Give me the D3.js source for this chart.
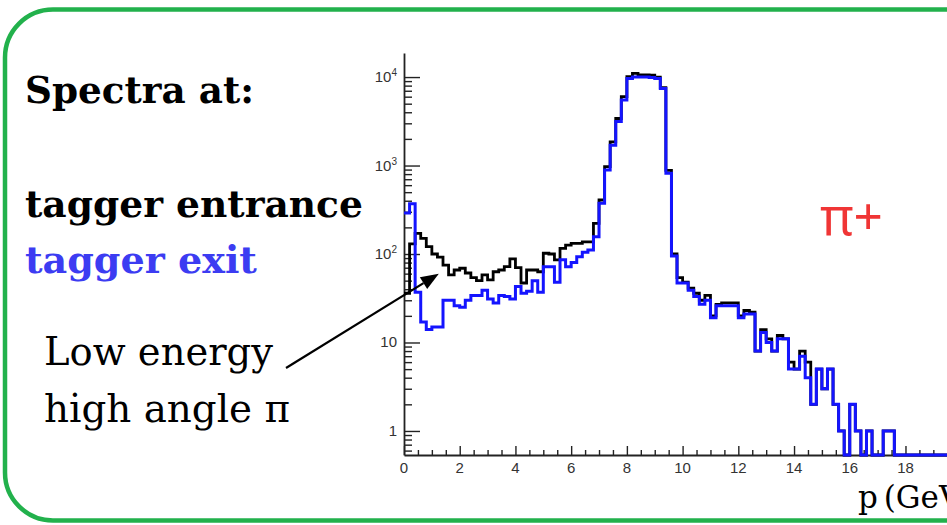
<!DOCTYPE html>
<html>
<head>
<meta charset="utf-8">
<script src="https://cdn.jsdelivr.net/npm/d3@7"></script>
<style>
  html, body { margin: 0; padding: 0; background: #fff; overflow: hidden; }
  svg { display: block; }
</style>
</head>
<body>
<svg id="chart" width="947" height="525"></svg>
<script>
// ---- data -------------------------------------------------------------
// Momentum spectra of pi+ (counts per 0.2 GeV/c bin, 0..20 GeV/c)
const binWidth = 0.2;
const xDomain = [0, 20];
const yDomain = [0.535, 18700];

const entrance = [
  36, 130, 171, 150, 121, 100, 92, 75, 58, 66,
  69, 61, 54, 50, 58, 51, 63, 66, 72, 88,
  70, 47, 66, 66, 63, 102, 100, 86, 116, 126,
  132, 132, 137, 137, 222, 408, 970, 1850, 3400, 6000,
  10100, 11000, 10600, 10600, 10500, 10000, 7600, 880, 100, 54,
  48, 41, 36, 30, 34, 20, 27, 28, 28, 28,
  20, 23, 22, 8, 14, 11, 8, 12, 11, 6,
  5, 8, 6, 2, 5, 3, 5, 2, 1, 0,
  2, 1, 0, 1, 0, 0, 1, 1, 0, 0,
  0, 0, 0, 0, 0, 0, 0, 0, 0, 0
];

const exit = [
  290, 370, 37, 17, 14, 15, 15, 30, 30, 26,
  25, 30, 34, 34, 39, 31, 28, 34, 33, 31,
  43, 36, 38, 50, 37, 72, 72, 48, 86, 72,
  80, 93, 105, 111, 157, 374, 890, 1700, 3150, 5500,
  9600, 10000, 10000, 10000, 9900, 9600, 7400, 820, 95, 47,
  47, 39, 33, 27, 30, 19, 26, 26, 26, 26,
  19, 21, 21, 8, 13, 10, 8, 11, 11, 5,
  5, 7, 4, 2, 5, 3, 5, 2, 1, 0,
  2, 1, 0, 1, 0, 0, 1, 1, 0, 0,
  0, 0, 0, 0, 0, 0, 0, 0, 0, 0
];

const xTickValues = [0, 2, 4, 6, 8, 10, 12, 14, 16, 18];
const xTickLabels = ["0", "2", "4", "6", "8", "10", "12", "14", "16", "18"];
const yTickValues = [1, 10, 100, 1000, 10000];
const yTickBase = ["1", "10", "10", "10", "10"];
const yTickExp = ["", "", "2", "3", "4"];

const headerText = "Spectra at:";
const seriesNames = ["tagger entrance", "tagger exit"];
const noteLines = ["Low energy", "high angle \u03c0"];
const particleText = "\u03c0+";
const xTitle = "p (GeV/c)";
// arrow points at the low-momentum shoulder (momentum, counts)
const notePoint = [1.25, 60];

// ---- styles -------------------------------------------------------------
const style = {
  frameGreen: "#22b14c",
  entranceLine: "#000000",
  exitLine: "#1414ff",
  exitText: "#3c3cf2",
  particle: "#f03535",
  axis: "#222222",
  tickText: "#333333",
  serif: "'DejaVu Serif', serif",
  sans: "'Liberation Sans', Arial, sans-serif"
};

const svg = d3.select("#chart");

// rounded panel outline (runs past the right edge)
svg.append("rect")
  .attr("x", 5).attr("y", 9.5)
  .attr("width", 1100).attr("height", 511)
  .attr("rx", 48).attr("ry", 48)
  .attr("fill", "none")
  .attr("stroke", style.frameGreen)
  .attr("stroke-width", 4.5);

// ---- scales -------------------------------------------------------------
const plot = { left: 404, top: 53, bottom: 455, unit: 27.86 };
const x = d3.scaleLinear().domain(xDomain)
  .range([plot.left, plot.left + plot.unit * (xDomain[1] - xDomain[0])]);
const y = d3.scaleLog().domain(yDomain).range([plot.bottom, plot.top]);

// ---- axes ---------------------------------------------------------------
const g = svg.append("g");

// x axis: minor ticks every 0.5, major every 2, drawn inward
const xMinor = d3.range(0, xDomain[1] + 0.001, 0.5).filter(v => v % 2 !== 0);
g.append("g")
  .attr("transform", `translate(0,${plot.bottom})`)
  .call(d3.axisBottom(x).tickValues(xMinor).tickSizeInner(-5).tickSizeOuter(0).tickFormat(""))
  .call(a => a.select(".domain").remove());
g.append("g")
  .attr("transform", `translate(0,${plot.bottom})`)
  .call(d3.axisBottom(x).tickValues(d3.range(0, xDomain[1] + 0.001, 2))
    .tickSizeInner(-9).tickSizeOuter(0).tickFormat(""));

// y axis: decade ticks long, sub-decade ticks short, drawn inward
const yMinor = [];
for (let e = -1; e <= 4; e++) {
  for (let m = 2; m <= 9; m++) {
    const v = m * Math.pow(10, e);
    if (v > yDomain[0] && v < yDomain[1]) yMinor.push(v);
  }
}
g.append("g")
  .attr("transform", `translate(${plot.left},0)`)
  .call(d3.axisLeft(y).tickValues(yMinor).tickSizeInner(-8).tickSizeOuter(0).tickFormat(""))
  .call(a => a.select(".domain").remove());
g.append("g")
  .attr("transform", `translate(${plot.left},0)`)
  .call(d3.axisLeft(y).tickValues(yTickValues).tickSizeInner(-16).tickSizeOuter(0).tickFormat(""));

g.selectAll(".tick line").attr("stroke", style.axis).attr("stroke-width", 1.4);
g.selectAll(".domain").attr("stroke", style.axis).attr("stroke-width", 1.8);

// tick labels
g.append("g").selectAll("text")
  .data(xTickValues)
  .join("text")
  .attr("x", d => x(d))
  .attr("y", plot.bottom + 18)
  .attr("text-anchor", "middle")
  .attr("font-family", style.sans)
  .attr("font-size", 15)
  .attr("fill", style.tickText)
  .text((d, i) => xTickLabels[i]);

const yLab = g.append("g").selectAll("text")
  .data(yTickValues)
  .join("text")
  .attr("x", plot.left - 7)
  .attr("y", d => y(d) + 5)
  .attr("text-anchor", "end")
  .attr("font-family", style.sans)
  .attr("font-size", 15)
  .attr("fill", style.tickText);
yLab.append("tspan").text((d, i) => yTickBase[i]);
yLab.append("tspan")
  .attr("dy", -6)
  .attr("font-size", 10)
  .text((d, i) => yTickExp[i]);

// ---- histograms -----------------------------------------------------------
const step = d3.line()
  .x(d => x(d[0]))
  .y(d => y(Math.max(d[1], yDomain[0])))
  .curve(d3.curveStepAfter);

function outline(values) {
  const pts = values.map((v, i) => [i * binWidth, v]);
  pts.push([values.length * binWidth, values[values.length - 1]]);
  return pts;
}

svg.append("path")
  .datum(outline(entrance))
  .attr("d", step)
  .attr("fill", "none")
  .attr("stroke", style.entranceLine)
  .attr("stroke-width", 2.8);

svg.append("path")
  .datum(outline(exit))
  .attr("d", step)
  .attr("fill", "none")
  .attr("stroke", style.exitLine)
  .attr("stroke-width", 3);

// ---- text blocks -------------------------------------------------------------
function fitWidth(sel, target) {
  const w = sel.node().getComputedTextLength();
  const fs = parseFloat(sel.attr("font-size"));
  sel.attr("font-size", fs * target / w);
  return sel;
}

fitWidth(svg.append("text")
  .attr("x", 25).attr("y", 103)
  .attr("font-family", style.serif).attr("font-weight", "bold")
  .attr("font-size", 36).attr("fill", "#000")
  .text(headerText), 229);

fitWidth(svg.append("text")
  .attr("x", 25).attr("y", 217)
  .attr("font-family", style.serif).attr("font-weight", "bold")
  .attr("font-size", 36).attr("fill", style.entranceLine)
  .text(seriesNames[0]), 338);

fitWidth(svg.append("text")
  .attr("x", 25).attr("y", 273)
  .attr("font-family", style.serif).attr("font-weight", "bold")
  .attr("font-size", 36).attr("fill", style.exitText)
  .text(seriesNames[1]), 232);

fitWidth(svg.append("text")
  .attr("x", 44).attr("y", 365)
  .attr("font-family", style.serif)
  .attr("font-size", 36).attr("fill", "#000")
  .text(noteLines[0]), 229);

fitWidth(svg.append("text")
  .attr("x", 44).attr("y", 422)
  .attr("font-family", style.serif)
  .attr("font-size", 36).attr("fill", "#000")
  .text(noteLines[1]), 246);

fitWidth(svg.append("text")
  .attr("x", 820).attr("y", 235)
  .attr("font-family", "'Noto Sans', sans-serif")
  .attr("font-size", 50).attr("fill", style.particle)
  .text(particleText), 63);

// axis title continues past the right edge of the panel
svg.append("text")
  .attr("x", 858).attr("y", 508)
  .attr("font-family", style.serif)
  .attr("font-size", 31)
  .attr("word-spacing", -4)
  .attr("fill", "#000")
  .text(xTitle);

// ---- annotation arrow ----------------------------------------------------------
const tail = [286, 368];
const tip = [x(notePoint[0]), y(notePoint[1])];
const ang = Math.atan2(tip[1] - tail[1], tip[0] - tail[0]);
const headLen = 18, headHalf = 7;
const base = [tip[0] - headLen * Math.cos(ang), tip[1] - headLen * Math.sin(ang)];
svg.append("line")
  .attr("x1", tail[0]).attr("y1", tail[1])
  .attr("x2", base[0]).attr("y2", base[1])
  .attr("stroke", "#000").attr("stroke-width", 2.2);
svg.append("path")
  .attr("d", d3.line()([
    tip,
    [base[0] + headHalf * Math.sin(ang), base[1] - headHalf * Math.cos(ang)],
    [base[0] - headHalf * Math.sin(ang), base[1] + headHalf * Math.cos(ang)]
  ]) + "Z")
  .attr("fill", "#000");
</script>
</body>
</html>
